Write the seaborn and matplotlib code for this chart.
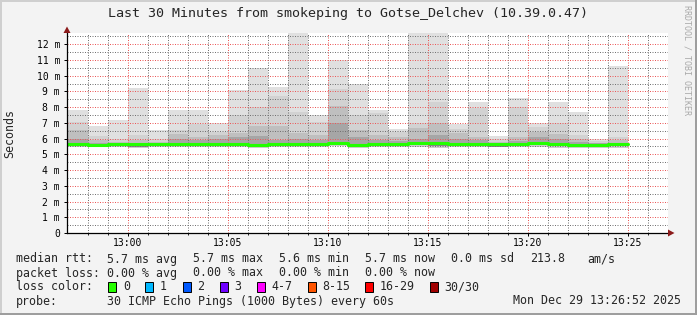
import numpy as np
import pandas as pd
import matplotlib
matplotlib.use("Agg")
import matplotlib.pyplot as plt
import seaborn as sns
from matplotlib.patches import Rectangle, Polygon

# ---------------- data ----------------
# bar start minute, relative to 13:00 (12:57 ... 13:24)
minutes = list(range(-3, 25))
# smoke envelope (ms)
smoke_max = [7.82, 6.80, 7.18, 9.20, 6.55, 7.82, 7.82, 6.97, 9.10, 10.50,
             9.30, 13.0, 7.50, 11.00, 9.45, 7.82, 6.60, 13.0, 13.0, 6.90,
             8.35, 6.16, 8.56, 6.97, 8.35, 7.71, 6.00, 10.64]
smoke_q2 = [7.07, 6.16, 5.95, 6.22, 5.95, 6.55, 6.95, 6.45, 7.50, 8.00,
            8.73, 7.71, 7.07, 9.13, 7.50, 7.60, 6.44, 6.97, 8.35, 6.60,
            7.92, 5.95, 8.03, 6.76, 6.97, 6.20, 5.85, 6.10]
smoke_q3 = [6.55, 5.90, 5.80, 5.90, 5.80, 6.30, 6.12, 6.22, 6.33, 6.80,
            6.80, 6.33, 6.22, 8.10, 6.54, 6.20, 6.10, 6.70, 6.97, 6.33,
            6.12, 5.80, 6.10, 6.40, 6.30, 5.95, 5.75, 5.90]
smoke_q4 = [5.95, 5.75, 5.72, 5.75, 5.72, 6.00, 5.90, 5.95, 6.08, 6.16,
            5.90, 6.00, 5.90, 7.00, 6.10, 5.90, 5.85, 6.00, 6.20, 6.00,
            5.90, 5.72, 5.85, 6.10, 5.95, 5.80, 5.70, 5.75]
median_rtt = [5.65, 5.62, 5.65, 5.63, 5.65, 5.65, 5.65, 5.65, 5.65, 5.62,
              5.65, 5.65, 5.65, 5.72, 5.62, 5.65, 5.65, 5.72, 5.70, 5.65,
              5.65, 5.63, 5.65, 5.75, 5.65, 5.62, 5.58, 5.65]
smoke_lo2 = [m - 0.14 for m in median_rtt]
smoke_lo1 = [5.45, 5.44, 5.48, 5.38, 5.48, 5.45, 5.45, 5.45, 5.45, 5.42,
             5.45, 5.45, 5.45, 5.50, 5.42, 5.45, 5.45, 5.45, 5.40, 5.45,
             5.45, 5.45, 5.45, 5.45, 5.40, 5.40, 5.38, 5.38]

x_tick_pos = [0, 5, 10, 15, 20, 25]
x_tick_labels = ["13:00", "13:05", "13:10", "13:15", "13:20", "13:25"]
y_tick_pos = list(range(0, 13))
y_tick_labels = ["0"] + [f"{v} m" for v in range(1, 13)]

loss_labels = ["0", "1", "2", "3", "4-7", "8-15", "16-29", "30/30"]
loss_colors = ["#26ff00", "#00b8ff", "#0059ff", "#7000ff",
               "#ff00ff", "#ff5500", "#ff0000", "#a00000"]

title = "Last 30 Minutes from smokeping to Gotse_Delchev (10.39.0.47)"
rtt_items = ["median rtt:", "5.7 ms avg", "5.7 ms max", "5.6 ms min",
             "5.7 ms now", "0.0 ms sd", "213.8", "am/s"]
loss_items = ["packet loss:", "0.00 % avg", "0.00 % max", "0.00 % min",
              "0.00 % now"]
probe_text = "30 ICMP Echo Pings (1000 Bytes) every 60s"
date_text = "Mon Dec 29 13:26:52 2025"

# ---------------- figure ----------------
W, H = 697, 315
BG = "#f3f3f3"
MONO = "DejaVu Sans Mono"

sns.set_style("white")
plt.rcParams["font.family"] = [MONO]

fig = plt.figure(figsize=(W / 100, H / 100), dpi=100, facecolor=BG)
ax = fig.add_axes([67 / W, 1 - 233 / H, (668 - 67) / W, 200 / H])
ax.set_facecolor("white")

layers = ["max", "q2", "q3", "q4", "med", "lo2", "lo1"]
layer_colors = ["#e0e0e0", "#d2d2d2", "#bfbfbf", "#a6a6a6", "#858585",
                "#cdcdcd", "#ffffff"]
arrays = [smoke_max, smoke_q2, smoke_q3, smoke_q4, median_rtt, smoke_lo2, smoke_lo1]
rows = []
for i, m in enumerate(minutes):
    for name, arr in zip(layers, arrays):
        rows.append({"x": m + 0.5, "layer": name, "value": arr[i]})
df = pd.DataFrame(rows)

sns.barplot(data=df, x="x", y="value", hue="layer", hue_order=layers,
            palette=layer_colors, dodge=False, native_scale=True, width=1,
            saturation=1, linewidth=0, errorbar=None, legend=False, ax=ax)

med_df = pd.DataFrame({"x": minutes + [minutes[-1] + 1],
                       "y": median_rtt + [median_rtt[-1]]})
sns.lineplot(data=med_df, x="x", y="y", drawstyle="steps-post",
             color="#22ff00", linewidth=2.2, ax=ax, zorder=4,
             errorbar=None)

ax.set_xlim(-3.05, 27.0)
ax.set_ylim(0, 12.71)
ax.set_xlabel("")
ax.set_ylabel("")

ax.set_xticks(x_tick_pos)
ax.set_xticklabels(x_tick_labels)
ax.set_xticks(np.arange(-2, 27), minor=True)
ax.set_yticks(y_tick_pos)
ax.set_yticklabels(y_tick_labels)
ax.set_yticks(np.arange(0.5, 12.6, 1.0), minor=True)

ax.set_axisbelow(False)
ax.grid(which="major", color=(0.92, 0.35, 0.35, 0.38), linestyle=(0, (1, 1.5)),
        linewidth=0.72, snap=True)
ax.grid(which="minor", color=(0.45, 0.45, 0.45, 0.22), linestyle=(0, (1, 1.5)),
        linewidth=0.72, snap=True)

ax.tick_params(axis="x", which="major", length=2.0, width=0.72, pad=1.5,
               labelsize=7, colors="black", direction="out", bottom=True)
ax.tick_params(axis="x", which="minor", length=1.5, width=0.72,
               direction="out", bottom=True)
ax.tick_params(axis="y", which="major", length=2.0, width=0.72, pad=3.0,
               labelsize=7, colors="black", direction="out", left=True)
ax.tick_params(axis="y", which="minor", length=0, left=False)
for lab in ax.get_xticklabels() + ax.get_yticklabels():
    lab.set_family(MONO)

for s in ["top", "right"]:
    ax.spines[s].set_visible(False)
for s in ["left", "bottom"]:
    ax.spines[s].set_color("black")
    ax.spines[s].set_linewidth(0.9)
    ax.spines[s].set_zorder(5)

# arrows
tf = fig.transFigure
def P(x, y):
    return (x / W, 1 - y / H)
fig.add_artist(Polygon([P(63.5, 33), P(70.5, 33), P(67, 26.5)], closed=True,
                       transform=tf, facecolor="#8b1a1a", edgecolor="none"))
fig.add_artist(Polygon([P(668, 229.5), P(668, 236.5), P(674.5, 233)], closed=True,
                       transform=tf, facecolor="#8b1a1a", edgecolor="none"))

# texts
fig.text(348 / W, 1 - 13.5 / H, title, ha="center", va="center", fontsize=9.6,
         family=MONO)
fig.text(10 / W, 1 - 133 / H, "Seconds", ha="center", va="center",
         rotation=90, fontsize=8.4, family=MONO)
fig.text(687 / W, 1 - 5 / H, "RRDTOOL / TOBI OETIKER", ha="center", va="top",
         rotation=270, fontsize=6, color="#a9a9a9", family=MONO)

LS = 8.4
rtt_x = [16, 107, 193, 279, 365, 451, 530, 587]
for txt, x in zip(rtt_items, rtt_x):
    fig.text(x / W, 1 - 259 / H, txt, ha="left", va="center", fontsize=LS,
             family=MONO)
loss_x = [16, 107, 193, 279, 365]
for txt, x in zip(loss_items, loss_x):
    fig.text(x / W, 1 - 273 / H, txt, ha="left", va="center", fontsize=LS,
             family=MONO)
fig.text(16 / W, 1 - 287 / H, "loss color:", ha="left", va="center",
         fontsize=LS, family=MONO)
box_x = [108, 145, 183, 220, 257, 308, 365, 430]
lab_x = [123, 160, 197, 234, 271, 322, 380, 444]
for bx, lx, col, lab in zip(box_x, lab_x, loss_colors, loss_labels):
    fig.add_artist(Rectangle((bx / W, 1 - 292 / H), 8 / W, 10 / H,
                             transform=tf, facecolor=col, edgecolor="black",
                             linewidth=0.7))
    fig.text(lx / W, 1 - 287 / H, lab, ha="left", va="center", fontsize=LS,
             family=MONO)
fig.text(16 / W, 1 - 301 / H, "probe:", ha="left", va="center", fontsize=LS,
         family=MONO)
fig.text(107 / W, 1 - 301 / H, probe_text, ha="left", va="center",
         fontsize=LS, family=MONO)
fig.text(681 / W, 1 - 301 / H, date_text, ha="right", va="center",
         fontsize=LS, family=MONO)

# 3D frame
fig.add_artist(Rectangle((0, 1 - 2 / H), 1, 2 / H, transform=tf,
                         facecolor="#cfcfcf", edgecolor="none"))
fig.add_artist(Rectangle((0, 0), 2 / W, 1, transform=tf,
                         facecolor="#cfcfcf", edgecolor="none"))
fig.add_artist(Rectangle((0, 0), 1, 2 / H, transform=tf,
                         facecolor="#9e9e9e", edgecolor="none"))
fig.add_artist(Rectangle((1 - 2 / W, 0), 2 / W, 1, transform=tf,
                         facecolor="#9e9e9e", edgecolor="none"))

fig.savefig("out.png", dpi=100, facecolor=BG)
